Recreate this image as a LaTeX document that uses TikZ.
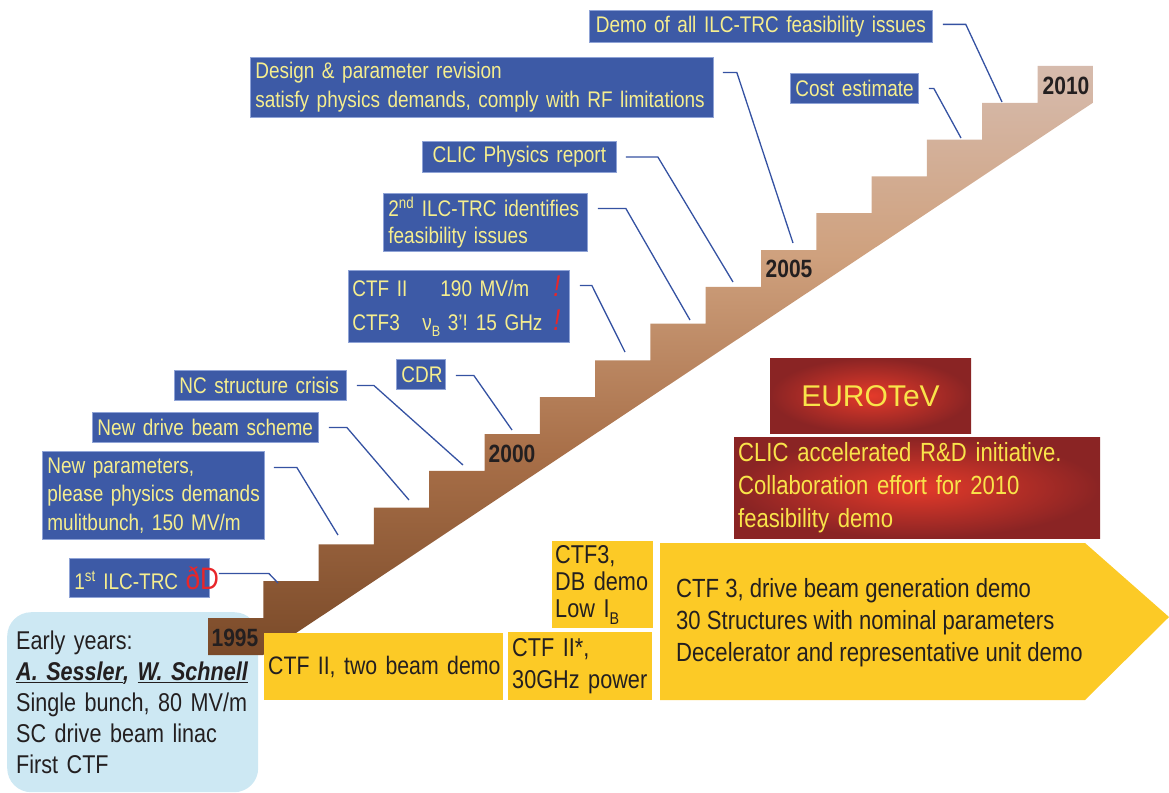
\documentclass[tikz,border=0pt]{standalone}
\usepackage{fontspec}
\setmainfont[FakeStretch=0.84]{Liberation Sans}
\newfontfamily\widefont{Liberation Sans}
\definecolor{lblue}{HTML}{3D5AA6}
\definecolor{lbord}{HTML}{8FA3D6}
\definecolor{ltext}{HTML}{F6EE8E}
\definecolor{cyel}{HTML}{FCCA26}
\definecolor{ered}{HTML}{E8262A}
\definecolor{conncol}{HTML}{3552A2}
\definecolor{ebox}{HTML}{CDE8F3}
\definecolor{dred}{HTML}{8A2424}
\definecolor{bred}{HTML}{E43A2A}
\definecolor{etxt}{HTML}{F9E44A}
\definecolor{stairtop}{HTML}{D6BBAD}
\definecolor{stairup}{HTML}{CFA17E}
\definecolor{stairmid}{HTML}{A86F48}
\definecolor{stairbot}{HTML}{7A4A29}
\definecolor{ink}{HTML}{231F20}
\pgfdeclareverticalshading{stairshade}{100bp}{color(0bp)=(stairbot); color(25bp)=(stairbot);
  color(42bp)=(stairmid); color(59bp)=(stairup); color(75bp)=(stairtop); color(100bp)=(stairtop)}
\tikzset{
  lbl/.style={fill=lblue, draw=lbord, line width=0.8pt, text=ltext, inner xsep=5pt, inner ysep=0pt,
    align=left, anchor=north west, font=\fontsize{22.6}{28}\selectfont},
  ybox/.style={fill=cyel, draw=none, text=ink, inner xsep=4pt, inner ysep=0pt,
    align=left, anchor=north west, font=\fontsize{25.8}{32}\selectfont},
  redbox/.style={draw=none, inner ysep=0pt, anchor=north west, text=etxt},
  conn/.style={draw=conncol, line width=1.3pt},
  year/.style={text=ink, font=\fontsize{25}{25}\selectfont\bfseries, inner sep=0pt},
}
\newcommand{\redex}{{\color{ered}\itshape\fontsize{30}{30}\selectfont !}}
\newcommand{\oneline}[1]{\mbox{#1}}
\begin{document}
\begin{tikzpicture}[x=1pt,y=-1pt]
\useasboundingbox (0,0) rectangle (1169,792);

% early years box
\node[fill=ebox, rounded corners=24pt, anchor=north west, minimum width=251pt, minimum height=180pt,
  text width=233pt, inner xsep=9pt, inner ysep=0pt, align=left, text=ink,
  font=\fontsize{25.7}{31}\selectfont] (early) at (7,612)
  {\oneline{Early years:}\\
   \oneline{\textbf{\textit{\underline{A. Sessler}, \underline{W. Schnell}}}}\\
   \oneline{Single bunch, 80 MV/m}\\
   \oneline{SC drive beam linac}\\
   \oneline{First CTF}};

% staircase
\shade[shading=stairshade]
  (208,655) -- (208,618)
  \foreach \i in {1,...,15}{ -- ({208+55.3*\i},{618-36.8*(\i-1)}) -- ({208+55.3*\i},{618-36.8*\i}) }
  -- (1092.8,66) -- (1092.8,102.8) -- (263,655) -- cycle;

\node[year] (y1995) at (235,638) {1995};
\node[year] (y2000) at (512,454) {2000};
\node[year] (y2005) at (789,269) {2005};
\node[year] (y2010) at (1066,86) {2010};

% connector end points on the steps
\coordinate (e1) at (278,583);
\coordinate (e2) at (338,535);
\coordinate (e3) at (409,500);
\coordinate (e4) at (463,465);
\coordinate (e5) at (512,430);
\coordinate (e6) at (625,352);
\coordinate (e7) at (690,320);
\coordinate (e8) at (733,282);
\coordinate (e9) at (793,243);
\coordinate (e10) at (961,138);
\coordinate (e11) at (1002,102);

% blue labels
\node[lbl, text width=130pt, minimum height=39pt] (l1) at (69,558)
  {\oneline{1\textsuperscript{st} ILC-TRC {\color{ered}\fontsize{31}{31}\selectfont ðD}}};
\node[lbl, text width=212pt, minimum height=88pt, font=\fontsize{22.6}{28.5}\selectfont] (l2) at (42,451)
  {\oneline{New parameters,}\\\oneline{please physics demands}\\\oneline{mulitbunch, 150 MV/m}};
\node[lbl, text width=216pt, minimum height=30pt] (l3) at (92,412) {\oneline{New drive beam scheme}};
\node[lbl, text width=162pt, minimum height=30pt] (l4) at (174,370) {\oneline{NC structure crisis}};
\node[lbl, text width=39pt, minimum height=30pt, align=center] (l5) at (396,359) {\oneline{CDR}};
\node[lbl, text width=213pt, inner xsep=4pt, minimum height=72pt, font=\fontsize{22.6}{34}\selectfont] (l6) at (348,270)
  {\oneline{\makebox[88pt][l]{CTF II}\makebox[113pt][l]{190 MV/m}\redex}\\
   \oneline{\makebox[70pt][l]{CTF3}\makebox[131pt][l]{ν\raisebox{-6pt}{\fontsize{15}{15}\selectfont B} 3’!\hspace{8pt}15 GHz}\redex}};
\node[lbl, text width=194pt, minimum height=58pt, font=\fontsize{22.6}{27}\selectfont] (l7) at (383,193)
  {\oneline{2\textsuperscript{nd} ILC-TRC identifies}\\\oneline{feasibility issues}};
\node[lbl, text width=184pt, minimum height=31pt, align=center] (l8) at (422,141) {\oneline{CLIC Physics report}};
\node[lbl, text width=453pt, minimum height=60pt, font=\fontsize{22.6}{29}\selectfont] (l9) at (250,57)
  {\oneline{Design \& parameter revision}\\\oneline{satisfy physics demands, comply with RF limitations}};
\node[lbl, text width=118pt, minimum height=30pt, align=center] (l10) at (790,73) {\oneline{Cost estimate}};
\node[lbl, text width=333pt, minimum height=32pt, align=center] (l11) at (589,10) {\oneline{Demo of all ILC-TRC feasibility issues}};

% connectors
\draw[conn] ([xshift=9pt,yshift=4.5pt]l1.east) -- ++(50,0) -- (e1);
\draw[conn] ([xshift=9pt,yshift=28pt]l2.east) -- ++(23,0) -- (e2);
\draw[conn] ([xshift=10pt]l3.east) -- ++(18,0) -- (e3);
\draw[conn] ([xshift=10pt]l4.east) -- ++(17,0) -- (e4);
\draw[conn] ([xshift=10pt,yshift=-1pt]l5.east) -- ++(18,0) -- (e5);
\draw[conn] ([xshift=10pt,yshift=21pt]l6.east) -- ++(12,0) -- (e6);
\draw[conn] ([xshift=10pt,yshift=14pt]l7.east) -- ++(28,0) -- (e7);
\draw[conn] ([xshift=9pt]l8.east) -- ++(32,0) -- (e8);
\draw[conn] ([xshift=9pt,yshift=15pt]l9.east) -- ++(14,0) -- (e9);
\draw[conn] ([xshift=10pt]l10.east) -- ++(5,0) -- (e10);
\draw[conn] ([xshift=10pt,yshift=2pt]l11.east) -- ++(23,0) -- (e11);

% EUROTeV boxes
\fill[dred] (770,358) rectangle (971,433);
\shade[inner color=bred, outer color=dred] (770,358) rectangle (971,433);
\node[text=etxt, font=\widefont\fontsize{30}{30}\selectfont, inner sep=0pt] (euro) at (870.5,396) {EUROTeV};
\fill[dred] (734,437) rectangle (1100,538);
\shade[inner color=bred, outer color=dred] (734,437) rectangle (1100,538);
\node[redbox, text width=358pt, inner xsep=4pt, align=left, font=\fontsize{26.3}{33}\selectfont,
  minimum height=101pt] (clic) at (734,437)
  {\oneline{CLIC accelerated R\&D initiative.}\\\oneline{Collaboration effort for 2010}\\\oneline{feasibility demo}};

% yellow boxes
\node[ybox, text width=231pt, minimum height=67pt, font=\fontsize{25.3}{32}\selectfont] (ctf2) at (264,633) {\oneline{CTF II, two beam demo}};
\node[ybox, text width=136pt, minimum height=68pt] (ctf2s) at (508,632) {\oneline{CTF II*,}\\\oneline{30GHz power}};
\node[ybox, text width=95pt, inner xsep=3pt, minimum height=87pt, font=\fontsize{25.8}{27}\selectfont] (ctf3) at (552,541)
  {\oneline{CTF3,}\\\oneline{DB demo}\\\oneline{Low I\raisebox{-7pt}{\fontsize{17}{17}\selectfont B}}};
\fill[cyel] (660,543) -- (1085,543) -- (1169,617) -- (1085,700) -- (660,700) -- cycle;
\node[text=ink, anchor=west, align=left, inner sep=0pt, font=\fontsize{26.3}{32}\selectfont] (ctf3big) at (676,623)
  {CTF 3, drive beam generation demo\\30 Structures with nominal parameters\\Decelerator and representative unit demo};
\end{tikzpicture}
\end{document}
